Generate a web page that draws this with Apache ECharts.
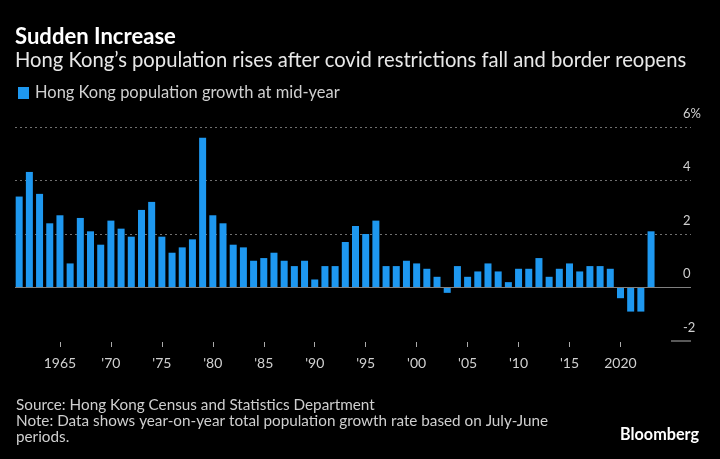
<!DOCTYPE html>
<html>
<head>
<meta charset="utf-8">
<script src="https://cdn.jsdelivr.net/npm/echarts@6/dist/echarts.min.js"></script>
<style>
html,body{margin:0;padding:0;background:#000;}
#c{width:720px;height:459px;}
</style>
</head>
<body>
<div id="c"></div>
<script>
const years = [1961,1962,1963,1964,1965,1966,1967,1968,1969,1970,1971,1972,1973,1974,1975,1976,1977,1978,1979,1980,1981,1982,1983,1984,1985,1986,1987,1988,1989,1990,1991,1992,1993,1994,1995,1996,1997,1998,1999,2000,2001,2002,2003,2004,2005,2006,2007,2008,2009,2010,2011,2012,2013,2014,2015,2016,2017,2018,2019,2020,2021,2022,2023];
const growth = [3.4,4.32,3.5,2.4,2.7,0.9,2.6,2.1,1.6,2.5,2.2,1.9,2.9,3.2,1.9,1.3,1.5,1.8,5.6,2.7,2.4,1.6,1.5,1.0,1.1,1.3,1.0,0.8,1.0,0.3,0.8,0.8,1.7,2.3,2.0,2.5,0.8,0.8,1.0,0.9,0.7,0.4,-0.2,0.8,0.4,0.6,0.9,0.6,0.2,0.7,0.7,1.1,0.4,0.7,0.9,0.6,0.8,0.8,0.7,-0.4,-0.9,-0.9,2.1];
const tickYears = [1965,1970,1975,1980,1985,1990,1995,2000,2005,2010,2015,2020];
const tickLabels = ['1965',"'70","'75","'80","'85","'90","'95","'00","'05","'10","'15",'2020'];
const yTicks = [-2,0,2,4,6];
const yTickLabels = ['-2','0','2','4','6%'];
const seriesName = 'Hong Kong population growth at mid-year';
const titleText = 'Sudden Increase';
const subtitleText = 'Hong Kong\u2019s population rises after covid restrictions fall and border reopens';
const sourceText = 'Source: Hong Kong Census and Statistics Department';
const noteText = 'Note: Data shows year-on-year total population growth rate based on July-June\nperiods.';

const FONT = 'Lato';
const cv = document.createElement('canvas').getContext('2d');
function fit(text, weight, target){
  cv.font = weight + ' 100px ' + FONT;
  return +(100 * target / cv.measureText(text).width).toFixed(2);
}
const titleSize = fit(titleText, 'bold', 161);
const subSize = fit(subtitleText, 'normal', 672);
const legSize = fit(seriesName, 'normal', 305);
const noteSize = fit('Note: Data shows year-on-year total population growth rate based on July-June', 'normal', 532);
const bbSize = fit('Bloomberg', 'bold', 79);

const chart = echarts.init(document.getElementById('c'), null, {renderer:'canvas'});
const barData = years.map((y,i)=>[y, growth[i]]);
const grid = {left:15, right:29, top:127, bottom:118};
const xMin = 1960.59, xMax = 2026.92;

chart.setOption({
  backgroundColor:'#000',
  animation:false,
  textStyle:{fontFamily:FONT},
  title:[
    {text:titleText, left:15, top:26, padding:0, textStyle:{color:'#fff', fontWeight:'bold', fontSize:titleSize, fontFamily:FONT}},
    {text:subtitleText, left:15, top:50, padding:0, textStyle:{color:'#e8e8e8', fontWeight:'normal', fontSize:subSize, fontFamily:FONT}},
    {text:sourceText + '\n' + noteText, left:16, top:397, padding:0, textStyle:{color:'#cfcfcf', fontWeight:'normal', fontSize:noteSize, lineHeight:16, fontFamily:FONT}},
    {text:'Bloomberg', right:21, top:427, padding:0, textStyle:{color:'#fff', fontWeight:'bold', fontSize:bbSize, fontFamily:FONT}}
  ],
  legend:{
    left:18, top:85, padding:0, icon:'rect', itemWidth:11, itemHeight:12, itemGap:10,
    textStyle:{color:'#d0d0d0', fontSize:legSize, fontFamily:FONT, padding:[0,0,0,1]},
    data:[seriesName]
  },
  grid:grid,
  xAxis:{
    type:'value', min:xMin, max:xMax, offset:1,
    axisLine:{show:false, onZero:false},
    splitLine:{show:false},
    axisTick:{show:true, length:5, customValues:tickYears, lineStyle:{color:'#aaa', width:1}},
    axisLabel:{customValues:tickYears, margin:14, color:'#d0d0d0', fontSize:14, fontFamily:FONT,
      formatter:function(v){ const i = tickYears.indexOf(Math.round(v)); return i>=0 ? tickLabels[i] : ''; }}
  },
  yAxis:{
    type:'value', position:'right', min:-2, max:6, interval:2,
    axisLine:{show:false}, axisTick:{show:false},
    splitLine:{show:true, lineStyle:{color:['rgba(0,0,0,0)','rgba(0,0,0,0)','#707070','#707070','#707070'], type:[2,3], width:1}},
    axisLabel:{inside:false, margin:-8, align:'left', alignMinLabel:'left', alignMaxLabel:'left',
      verticalAlign:'bottom', padding:[0,0,7,0], color:'#d0d0d0', fontSize:13, fontFamily:FONT,
      formatter:function(v){ const i = yTicks.indexOf(v); return i>=0 ? yTickLabels[i] : ''; }}
  },
  series:[{
    name:seriesName, type:'bar', data:barData, barWidth:7,
    itemStyle:{color:'#1e98f0'},
    markLine:{silent:true, symbol:['none','none'], label:{show:false},
      lineStyle:{color:'#808080', type:'solid', width:1},
      data:[{yAxis:0}]}
  }]
});

// short base rule at the bottom of the value axis (right side)
const yBottom = chart.convertToPixel({yAxisIndex:0}, -2);
const xRight = 720 - grid.right;
chart.setOption({graphic:[{type:'line', shape:{x1:xRight-20, y1:yBottom, x2:xRight, y2:yBottom}, style:{stroke:'#b0b0b0', lineWidth:1}}]});
</script>
</body>
</html>
